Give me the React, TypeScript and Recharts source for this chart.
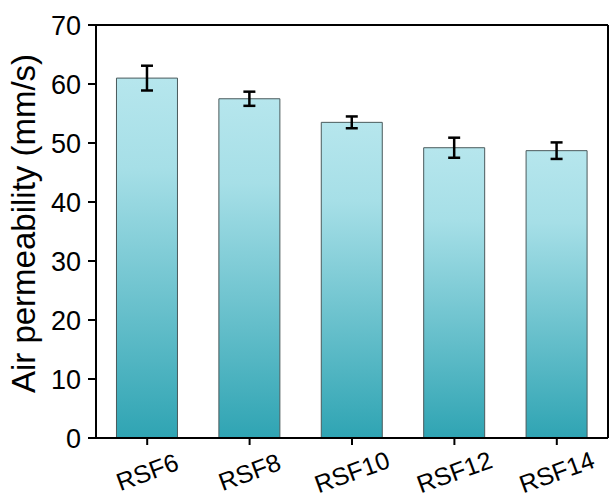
import React from 'react'
import { BarChart, Bar, XAxis, YAxis, ErrorBar, CartesianGrid } from 'recharts'

const categories = ['RSF6', 'RSF8', 'RSF10', 'RSF12', 'RSF14']
const permeability = [61.0, 57.5, 53.5, 49.2, 48.7]
const permeabilityErr = [2.1, 1.2, 1.0, 1.7, 1.4]
const yTicks = [0, 10, 20, 30, 40, 50, 60, 70]

const FONT = '"Liberation Sans", Arial, sans-serif'

const data = categories.map((name, i) => ({
  name,
  value: permeability[i],
  err: permeabilityErr[i],
}))

const XTick = ({ x, y, payload }: any) => (
  <g transform={`translate(${x},${y + 25}) rotate(-20)`}>
    <text
      textAnchor="middle"
      dy="0.35em"
      fill="#000"
      fontSize={25}
      fontFamily={FONT}
    >
      {payload.value}
    </text>
  </g>
)

const YTick = ({ x, y, payload }: any) => (
  <text
    x={x - 5}
    y={y}
    dy="0.36em"
    textAnchor="end"
    fill="#000"
    fontSize={27}
    fontFamily={FONT}
  >
    {payload.value}
  </text>
)

export default function App() {
  return (
    <div style={{ position: 'absolute', left: 0, top: 0, background: '#fff' }}>
      <BarChart
        width={611}
        height={501}
        data={data}
        margin={{ top: 25, right: 3, bottom: 0, left: 0 }}
        barCategoryGap="20%"
      >
        <defs>
          <linearGradient id="barFill" x1="0" y1="0" x2="0" y2="1">
            <stop offset="0%" stopColor="#b6e6ed" />
            <stop offset="25%" stopColor="#a6dfe7" />
            <stop offset="100%" stopColor="#2fa4b3" />
          </linearGradient>
        </defs>
        {/* frame: top and right edges of the plot box */}
        <CartesianGrid
          stroke="#000"
          strokeWidth={2}
          fill="none"
          horizontalCoordinatesGenerator={({ offset }: any) => [offset.top]}
          verticalCoordinatesGenerator={({ offset }: any) => [offset.left + offset.width]}
        />
        <XAxis
          dataKey="name"
          height={63}
          interval={0}
          tick={<XTick />}
          tickSize={7}
          tickLine={{ stroke: '#000', strokeWidth: 2 }}
          axisLine={{ stroke: '#000', strokeWidth: 2 }}
        />
        <YAxis
          width={96}
          domain={[0, 70]}
          ticks={yTicks}
          interval={0}
          tick={<YTick />}
          tickSize={8}
          tickLine={{ stroke: '#000', strokeWidth: 2 }}
          axisLine={{ stroke: '#000', strokeWidth: 2 }}
          label={{
            value: 'Air permeability (mm/s)',
            angle: -90,
            position: 'insideLeft',
            dx: 18,
            dy: -8,
            style: { textAnchor: 'middle', fontSize: 33, fontFamily: FONT, fill: '#000' },
          }}
        />
        <Bar
          dataKey="value"
          fill="url(#barFill)"
          stroke="#4a5a5c"
          strokeWidth={1}
          isAnimationActive={false}
        >
          <ErrorBar dataKey="err" width={6} stroke="#000" strokeWidth={2.5} />
        </Bar>
      </BarChart>
    </div>
  )
}
